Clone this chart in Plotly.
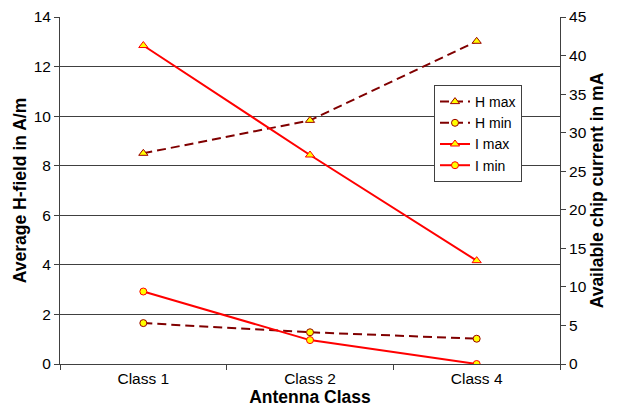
import plotly.graph_objects as go

categories = ["Class 1", "Class 2", "Class 4"]
h_max = [8.5, 9.83, 13.02]
h_min = [1.65, 1.28, 1.02]
i_max = [41.3, 27.1, 13.4]
i_min = [9.4, 3.1, 0.0]

marker_tri = dict(symbol="triangle-up", size=8, color="#FFFF00", line=dict(color="#FF0000", width=1))
marker_cir = dict(symbol="circle", size=7, color="#FFFF00", line=dict(color="#FF0000", width=1))
marker_tri_h = dict(symbol="triangle-up", size=8, color="#FFFF00", line=dict(color="#990000", width=1))
marker_cir_h = dict(symbol="circle", size=7, color="#FFFF00", line=dict(color="#990000", width=1))

FAM = "Liberation Sans, Arial, sans-serif"
AX = "#404040"

fig = go.Figure()
fig.add_trace(go.Scatter(x=categories, y=h_max, name="H max", mode="lines+markers",
                         line=dict(color="#800000", width=2, dash="9px,5px"), marker=marker_tri_h))
fig.add_trace(go.Scatter(x=categories, y=h_min, name="H min", mode="lines+markers",
                         line=dict(color="#800000", width=2, dash="9px,5px"), marker=marker_cir_h))
fig.add_trace(go.Scatter(x=categories, y=i_max, name="I max", mode="lines+markers", yaxis="y2",
                         line=dict(color="#FF0000", width=2), marker=marker_tri))
fig.add_trace(go.Scatter(x=categories, y=i_min, name="I min", mode="lines+markers", yaxis="y2",
                         line=dict(color="#FF0000", width=2), marker=marker_cir))

# page body has an 8px default margin, so the figure is offset by 8px
fig.update_layout(
    width=610, height=410,
    margin=dict(l=52, r=58, t=9, b=54),
    paper_bgcolor="white", plot_bgcolor="white",
    font=dict(family=FAM, size=15.5, color="#000000"),
    showlegend=True,
    legend=dict(x=0.748, y=0.804, xanchor="left", yanchor="top",
                bordercolor=AX, borderwidth=1, bgcolor="white",
                font=dict(family=FAM, size=14),
                tracegroupgap=0, itemwidth=30,
                entrywidth=62, entrywidthmode="pixels"),
    xaxis=dict(type="category", showline=True, linecolor=AX, linewidth=1,
               ticks="outside", tickson="boundaries", ticklen=5, tickcolor=AX,
               showgrid=False, zeroline=False, automargin=False,
               title=dict(text="<b>Antenna Class</b>", font=dict(size=17.5), standoff=2),
               range=[-0.5, 2.5]),
    yaxis=dict(range=[0, 14], dtick=2, showline=True, linecolor=AX, linewidth=1,
               ticks="outside", ticklen=5, tickcolor=AX, automargin=False,
               showgrid=True, gridcolor=AX, gridwidth=1, zeroline=False,
               title=dict(text="<b>Average H-field in A/m</b>", font=dict(size=17.5), standoff=2)),
    yaxis2=dict(range=[0, 45], dtick=5, overlaying="y", side="right", showline=True,
                linecolor=AX, linewidth=1, ticks="outside", ticklen=5, tickcolor=AX,
                showgrid=False, zeroline=False, automargin=False,
                title=dict(text="<b>Available chip current in mA</b>", font=dict(size=17.5), standoff=4)),
    yaxis3=dict(range=[0, 45], dtick=5, overlaying="y", side="right", showline=False,
                ticks="inside", ticklen=5, tickcolor=AX, showticklabels=False,
                showgrid=False, zeroline=False, automargin=False),
)

fig.write_html("out.html")
